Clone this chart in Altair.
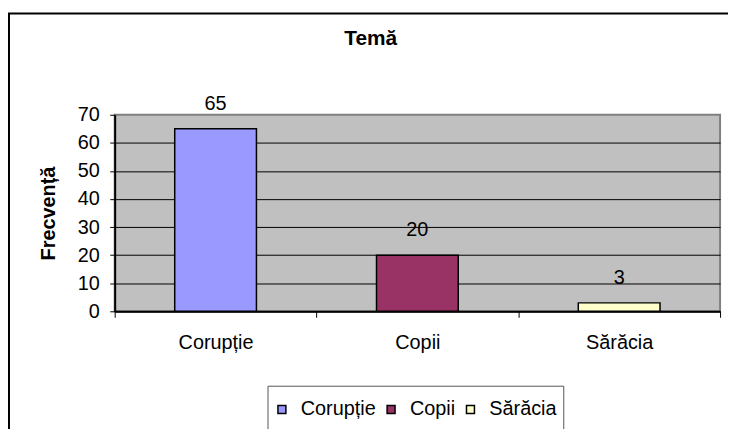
import altair as alt
import pandas as pd

categories = ["Corupție", "Copii", "Sărăcia"]
values = [65, 20, 3]
colors = ["#9999FF", "#993366", "#FFFFCC"]
y_ticks = [0, 10, 20, 30, 40, 50, 60, 70]
chart_title = "Temă"
y_title = "Frecvență"

df = pd.DataFrame({"tema": categories, "frecventa": values})

FONT = "Liberation Sans"
FS = 20

x_enc = alt.X(
    "tema:N", sort=categories, title=None,
    scale=alt.Scale(paddingInner=0, paddingOuter=0),
    axis=alt.Axis(labelAngle=0, labelFontSize=FS, labelFont=FONT, labelColor="black",
                  labelPadding=15, labelBaseline="top", tickBand="extent", tickSize=6,
                  tickColor="black", tickWidth=1, domainColor="black", domainWidth=2,
                  grid=False),
)
y_enc = alt.Y(
    "frecventa:Q", title=y_title,
    scale=alt.Scale(domain=[0, 70], nice=False),
    axis=alt.Axis(values=y_ticks, labelFontSize=FS, labelFont=FONT, labelColor="black",
                  labelOverlap=False, labelFlush=False,
                  labelPadding=10.5, tickSize=5, tickColor="black", tickWidth=1,
                  domainColor="black", domainWidth=2,
                  grid=True, gridColor="black", gridWidth=1,
                  gridOpacity={"condition": {"test": "datum.value === 70", "value": 0}, "value": 1},
                  titleFont=FONT, titleFontSize=FS, titleFontWeight="bold", titleColor="black",
                  titleBaseline="alphabetic", titlePadding=23),
)

legend = alt.Legend(
    orient="none", legendX=158.5, legendY=287, direction="horizontal", title=None,
    symbolType="square", symbolSize=64, symbolStrokeColor="black", symbolStrokeWidth=1.5,
    labelFont=FONT, labelFontSize=FS, labelColor="black", labelOffset=9,
    columnPadding=5, padding=0,
)

color_enc = alt.Color("tema:N", scale=alt.Scale(domain=categories, range=colors), legend=legend)

frame = alt.Chart(alt.Data(values=[{"k": 1}])).mark_rect(
    fillOpacity=0, stroke="black", strokeWidth=2
).encode(x=alt.value(-106.5), x2=alt.value(640), y=alt.value(-102), y2=alt.value(400))

legend_box = alt.Chart(alt.Data(values=[{"k": 1}])).mark_rect(
    fillOpacity=0, stroke="#555555", strokeWidth=1
).encode(x=alt.value(154.5), x2=alt.value(452.5), y=alt.value(273.5), y2=alt.value(400))

bars = alt.Chart(df).mark_bar(
    width=alt.RelativeBandSize(0.405), stroke="black", strokeWidth=1.5
).encode(x=x_enc, y=y_enc, color=color_enc)

labels = alt.Chart(df).mark_text(
    dy=-19, baseline="alphabetic", fontSize=FS, font=FONT, color="black"
).encode(x=x_enc, y=y_enc, text="frecventa:Q")

title = alt.Chart(alt.Data(values=[{"t": chart_title}])).mark_text(
    align="center", baseline="alphabetic", fontSize=21, fontWeight="bold", font=FONT, color="black"
).encode(x=alt.value(258), y=alt.value(-70), text="t:N")

chart = alt.layer(frame, legend_box, bars, labels, title).properties(
    width=610, height=198,
    padding={"left": 107.5, "top": 106, "right": 8, "bottom": 117},
    autosize="none",
).configure(
    background="white"
).configure_view(
    fill="#C0C0C0", stroke="#808080", strokeWidth=2
)

chart.save("out.html", embed_options={"renderer": "svg", "actions": False})
